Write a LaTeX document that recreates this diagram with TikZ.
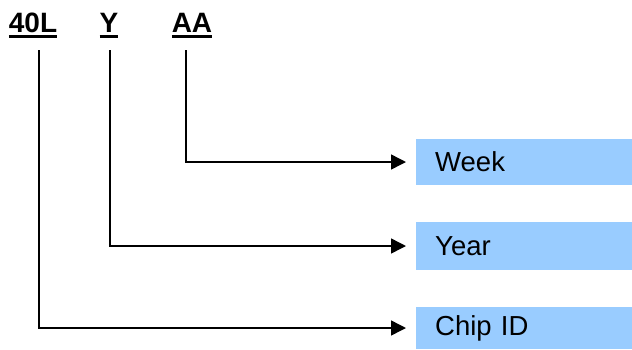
\documentclass[tikz,border=0pt]{standalone}
\usepackage{fontspec}
\setmainfont{Liberation Sans}
\usetikzlibrary{arrows.meta, positioning}

\definecolor{fieldblue}{RGB}{153,204,255}
\newcommand{\codeul}[1]{\vtop{\hbox{#1}\kern3pt\hrule height 3pt}}

\begin{document}
\begin{tikzpicture}[x=1pt,y=-1pt,
    code/.style={font=\fontsize{28}{32}\selectfont\bfseries, inner sep=0pt, anchor=base},
    field/.style={fill=fieldblue, minimum width=216pt, minimum height=46pt,
      text width=178pt, inner xsep=19pt, align=left, anchor=west,
      font=\fontsize{27.5}{32}\selectfont},
    link/.style={line width=1.5pt, -{Triangle[length=15pt,width=15pt]}, shorten >=10pt}]
  \useasboundingbox (0,0) rectangle (632,349);

  % Kode tanda
  \node[code] (chipid) at (33,32) {\codeul{40L}};
  \node[code] (year) at (109,32) {\codeul{Y}};
  \node[code] (week) at (192,32) {\codeul{AA}};

  % Kotak keterangan
  \node[field] (weekbox) at (416,162) {Week};
  \node[field, minimum height=48pt] (yearbox) at (416,246) {Year};
  \node[field, minimum height=42pt] (chipbox) at (416,328) {Chip ID};

  % Garis penunjuk
  \draw[link] ([xshift=-6pt]week.south |- 0,50) |- (weekbox.west);
  \draw[link] ([xshift=1pt]year.south |- 0,50) |- (yearbox.west);
  \draw[link] ([xshift=6pt]chipid.south |- 0,50) |- (chipbox.west);
\end{tikzpicture}
\end{document}
